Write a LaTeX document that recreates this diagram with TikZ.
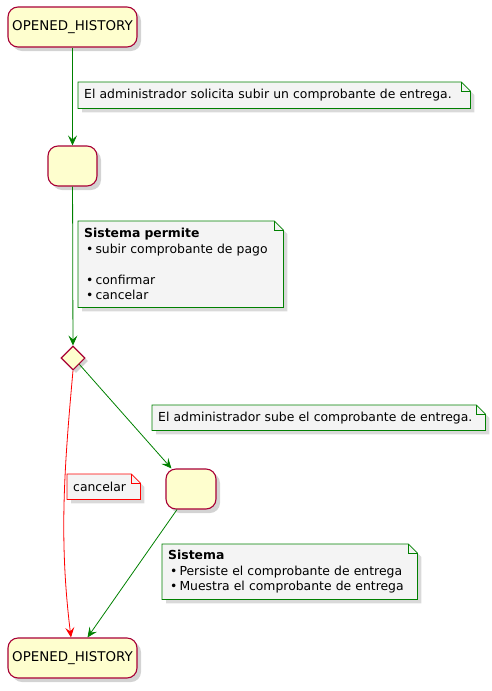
\documentclass[tikz,border=0pt]{standalone}
\usepackage{fontspec}
\setmainfont{DejaVu Sans}
\usetikzlibrary{shapes.geometric,arrows.meta,shadows,backgrounds}

\definecolor{statefill}{HTML}{FEFECE}
\definecolor{stateline}{HTML}{A80036}
\definecolor{notefill}{HTML}{F4F4F4}
\definecolor{flowgreen}{HTML}{008000}

% folded outline of a note, drawn behind its text
\newcommand\foldnote[2]{%
  \begin{scope}[on background layer]
    \draw[draw=#2, fill=notefill, line width=0.8pt,
          drop shadow={shadow xshift=4pt, shadow yshift=-4pt, opacity=0.3}]
      (#1.north west) -- ([xshift=-9pt]#1.north east)
      -- ([yshift=-9pt]#1.north east) -- (#1.south east)
      -- (#1.south west) -- cycle;
    \draw[draw=#2, line width=0.8pt]
      ([xshift=-9pt]#1.north east) |- ([yshift=-9pt]#1.north east);
  \end{scope}}

\begin{document}
\begin{tikzpicture}
    [x=1pt, y=-1pt,
    state/.style = {draw=stateline, fill=statefill, line width=1.1pt,
                    rounded corners=10pt, minimum height=40pt, inner sep=0pt,
                    font=\fontsize{13.4}{15}\selectfont,
                    drop shadow={shadow xshift=4pt, shadow yshift=-4pt, opacity=0.35}},
    choice/.style = {diamond, draw=stateline, fill=statefill, line width=1.1pt,
                     minimum width=24pt, minimum height=24pt, inner sep=0pt,
                     drop shadow={shadow xshift=3pt, shadow yshift=-3pt, opacity=0.35}},
    note/.style = {anchor=north west, align=left, inner xsep=6pt, inner ysep=0pt,
                   font=\fontsize{12.4}{15.5}\selectfont},
    flow/.style = {draw=flowgreen, line width=0.8pt,
                   -{Stealth[length=10pt, width=9pt, inset=4pt]}},
    cancelflow/.style = {flow, draw=red}]
    \useasboundingbox (0,0) rectangle (491,691);
    % Estados
    \node[state, minimum width=129pt] (open) at (72.5,27) {OPENED\_HISTORY};
    \node[state, minimum width=49pt] (ask) at (72.5,166) {};
    \node[choice] (pick) at (73,358) {};
    \node[state, minimum width=50pt] (upload) at (191,489) {};
    \node[state, minimum width=129pt] (closed) at (72.5,658) {OPENED\_HISTORY};
    % Notas
    \node[note, text width=380pt, minimum height=26pt] (askNote) at (78,82)
        {El administrador solicita subir un comprobante de entrega.};
    \node[note, text width=193pt, minimum height=86pt] (menuNote) at (78,221)
        {\textbf{Sistema permite}\\
         \hspace{2pt}•\hspace{2pt}subir comprobante de pago\\[15.5pt]
         \hspace{2pt}•\hspace{2pt}confirmar\\
         \hspace{2pt}•\hspace{2pt}cancelar};
    \node[note, text width=321pt, minimum height=25pt] (uploadNote) at (152,405)
        {El administrador sube el comprobante de entrega.};
    \node[note, text width=61pt, minimum height=25pt] (cancelNote) at (67,474)
        {cancelar};
    \node[note, text width=243pt, minimum height=55pt] (saveNote) at (162,544)
        {\textbf{Sistema}\\
         \hspace{2pt}•\hspace{2pt}Persiste el comprobante de entrega\\
         \hspace{2pt}•\hspace{2pt}Muestra el comprobante de entrega};
    \foldnote{askNote}{flowgreen}
    \foldnote{menuNote}{flowgreen}
    \foldnote{uploadNote}{flowgreen}
    \foldnote{cancelNote}{red}
    \foldnote{saveNote}{flowgreen}
    % Transiciones
    \draw[flow] (open) -- (ask);
    \draw[flow] (ask) -- (pick);
    \draw[flow] (pick.south east) -- ([xshift=6pt]upload.north west);
    \draw[cancelflow] (pick.south) .. controls (64,470) and (59,540) .. ([xshift=-1.5pt]closed.north);
    \draw[flow] ([xshift=-14pt]upload.south) -- ([xshift=15pt]closed.north);
\end{tikzpicture}
\end{document}
